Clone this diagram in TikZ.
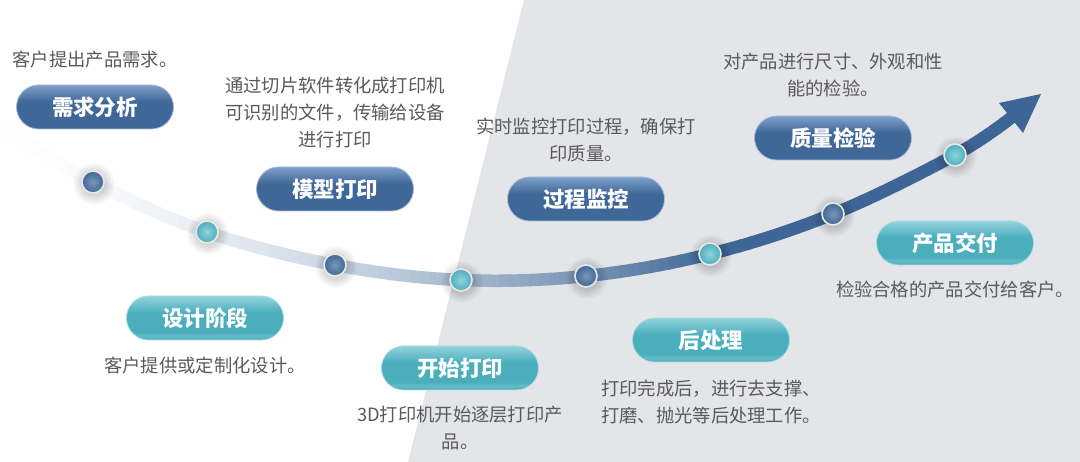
\documentclass[tikz,border=0pt]{standalone}
\usepackage{fontspec}
\setmainfont{Noto Sans CJK SC}
\definecolor{bgGray}{HTML}{E4E5E9}
\definecolor{dkBlue}{HTML}{3F6898}
\definecolor{ltBlue}{HTML}{7FA0CA}
\definecolor{dkTeal}{HTML}{4AAEBD}
\definecolor{ltTeal}{HTML}{93D3DC}
\definecolor{txtGray}{HTML}{5A5A5A}
\definecolor{curveBlue}{HTML}{3D6696}
\pgfdeclareverticalshading{bluepill}{100bp}{color(0bp)=(dkBlue); color(25bp)=(dkBlue); color(56bp)=(dkBlue); color(75bp)=(ltBlue); color(100bp)=(ltBlue)}
\pgfdeclareverticalshading{tealpill}{100bp}{color(0bp)=(dkTeal); color(25bp)=(dkTeal); color(30bp)=(dkTeal!85!white); color(34bp)=(dkTeal); color(56bp)=(dkTeal); color(75bp)=(ltTeal); color(100bp)=(ltTeal)}
\tikzset{
  pillbase/.style={rectangle, rounded corners=22pt, minimum width=157pt, minimum height=44pt,
    inner sep=0pt, line width=0.8pt, text=white, font=\fontsize{21.5}{22}\selectfont\bfseries},
  pillblue/.style={pillbase, shading=bluepill, draw=ltBlue!70!white},
  pillteal/.style={pillbase, shading=tealpill, draw=ltTeal!80!white},
  desc/.style={text=txtGray, font=\fontsize{18.3}{27}\selectfont, align=center, inner sep=0pt},
  dotbase/.style={circle, minimum size=22pt, inner sep=0pt, line width=1.6pt, draw=white!82!gray},
  dotblue/.style={dotbase, inner color=dkBlue!70!white, outer color=dkBlue},
  dotteal/.style={dotbase, inner color=ltTeal, outer color=dkTeal},
  dotshadow/.style={fill=black, opacity=0.014}
}
\begin{document}
\begin{tikzpicture}[x=1pt,y=-1pt]
\useasboundingbox (0,0) rectangle (1080,462);
% background
\fill[white] (0,0) rectangle (1080,462);
\fill[bgGray] (524,0) -- (1080,0) -- (1080,462) -- (408,462) -- cycle;
% curve points
\coordinate (s0) at (0,127);
\coordinate (k1) at (93,182);
\coordinate (k2) at (207,232);
\coordinate (k3) at (335,265);
\coordinate (k4) at (461,280);
\coordinate (k5) at (586,276);
\coordinate (k6) at (710,254);
\coordinate (k7) at (833,214);
\coordinate (k8) at (955,155);
\coordinate (send) at (1012,117);
% gradient curve by strips
\foreach \i in {0,...,102}{
  \pgfmathsetmacro{\xa}{\i*10-0.6}
  \pgfmathsetmacro{\xb}{\i*10+10.6}
  \pgfmathsetmacro{\pp}{min(100,0.5+97*((\i*10+5)/710)^1.75)}
  \begin{scope}
    \clip (\xa,0) rectangle (\xb,462);
    \draw[line width=12.5pt, color=curveBlue!\pp!white]
      plot[smooth, tension=0.6] coordinates {(s0) (k1) (k2) (k3) (k4) (k5) (k6) (k7) (k8) (send)};
  \end{scope}
}
% dot shadows (soft)
\foreach \k in {k1,k2,k3,k4,k5,k6,k7,k8}{
  \foreach \r in {12,13,...,21}{
    \fill[dotshadow] (\k) ++(1,2) circle (\r);
  }
}
% arrow head
\coordinate (tip) at (1041,94);
\coordinate (w1) at (999,103);
\coordinate (w2) at (1023,133);
\fill[curveBlue] (tip) -- (w1) -- (w2) -- cycle;
% dots
\node[dotblue] (c1) at (k1) {};
\node[dotteal] (c2) at (k2) {};
\node[dotblue] (c3) at (k3) {};
\node[dotteal] (c4) at (k4) {};
\node[dotblue] (c5) at (k5) {};
\node[dotteal] (c6) at (k6) {};
\node[dotblue] (c7) at (k7) {};
\node[dotteal] (c8) at (k8) {};
% pills
\node[pillblue] (p1) at (95,107) {需求分析};
\node[pillblue] (p2) at (335,189) {模型打印};
\node[pillblue] (p3) at (586,199) {过程监控};
\node[pillblue] (p4) at (833,138) {质量检验};
\node[pillteal] (p5) at (205,318) {设计阶段};
\node[pillteal] (p6) at (460,368) {开始打印};
\node[pillteal] (p7) at (711,340) {后处理};
\node[pillteal] (p8) at (955,243) {产品交付};
% descriptions
\node[desc] (d1) at (95,60) {客户提出产品需求。};
\node[desc] (d2) at (335,113) {通过切片软件转化成打印机\\可识别的文件，传输给设备\\进行打印};
\node[desc] (d3) at (586,140) {实时监控打印过程，确保打\\印质量。};
\node[desc] (d4) at (833,75) {对产品进行尺寸、外观和性\\能的检验。};
\node[desc] (d5) at (205,366) {客户提供或定制化设计。};
\node[desc] (d6) at (460,428) {3D打印机开始逐层打印产\\品。};
\node[desc] (d7) at (711,402) {打印完成后，进行去支撑、\\打磨、抛光等后处理工作。};
\node[desc] (d8) at (955,290) {检验合格的产品交付给客户。};
\end{tikzpicture}
\end{document}
